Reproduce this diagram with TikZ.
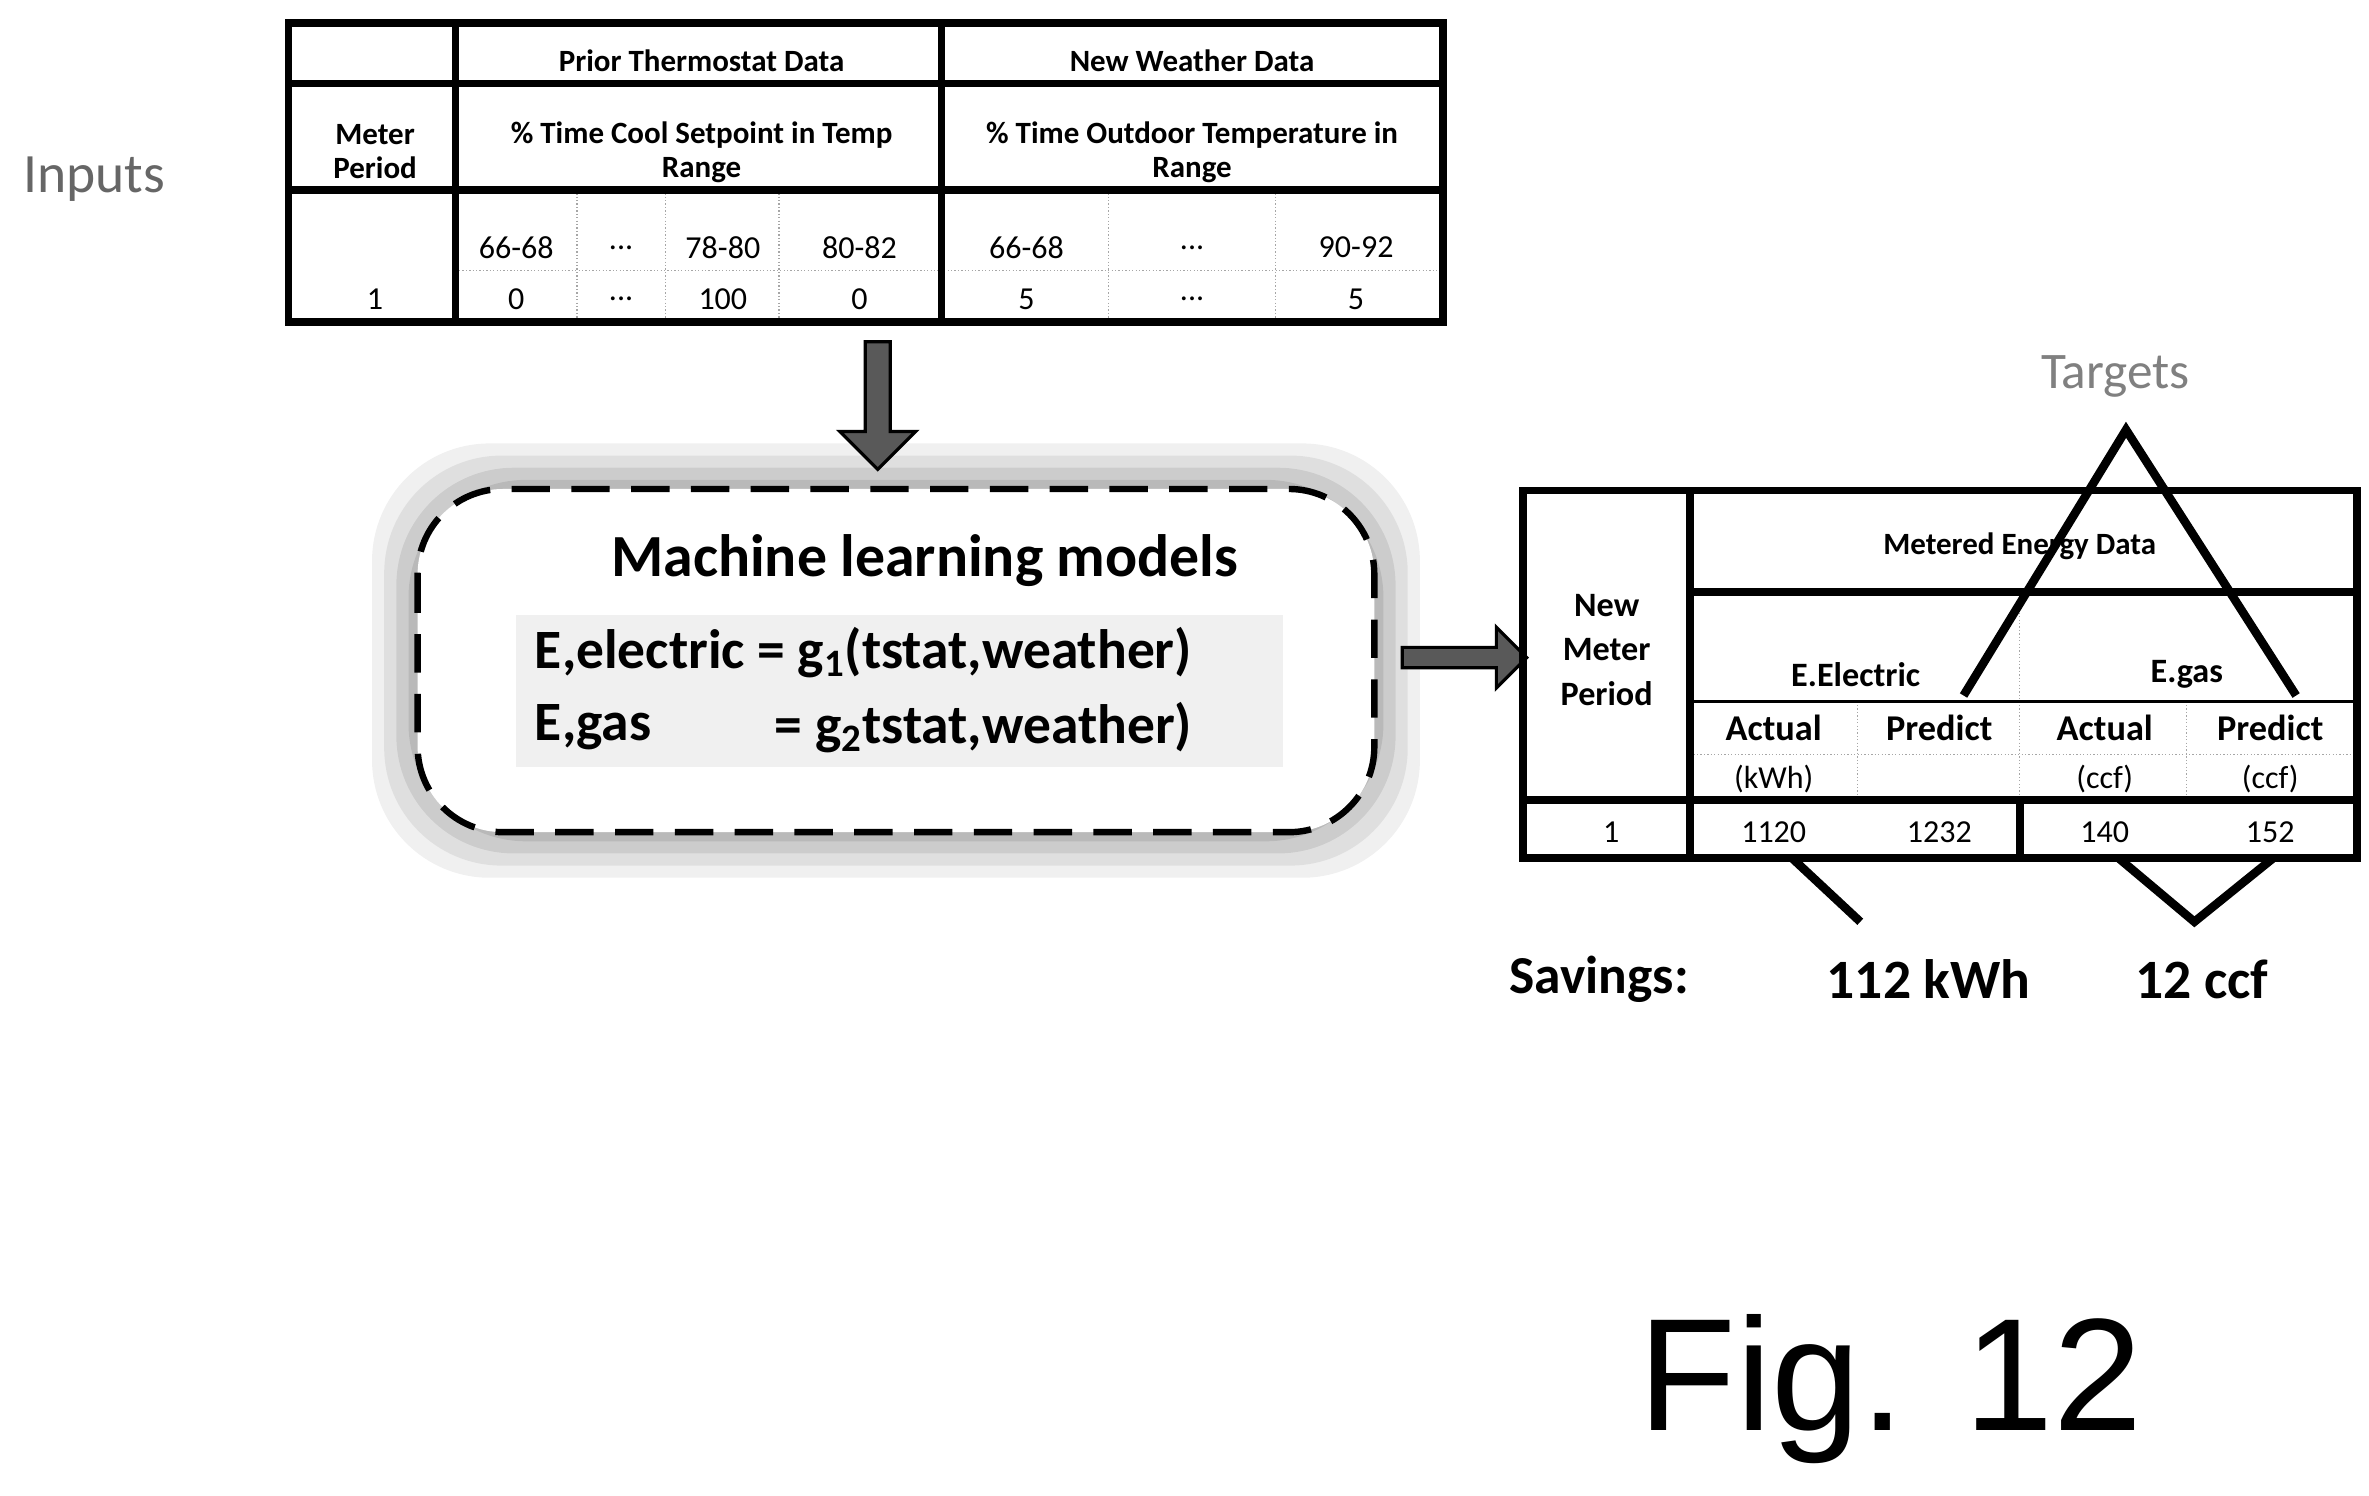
\documentclass[tikz,border=0pt]{standalone}
\usepackage{fontspec}
\setmainfont{Carlito}
\newfontfamily\arialf{Liberation Sans}
\usetikzlibrary{shapes.arrows}
\begin{document}
\begin{tikzpicture}[x=0.025cm,y=-0.025cm,
 thick line/.style={line width=3.6pt},
 thin sep/.style={gray!70,line width=0.6pt,densely dotted},
 tt/.style={font=\fontsize{15}{16}\selectfont,align=center,inner sep=0},
 tb/.style={tt,font=\fontsize{14.5}{16}\selectfont\bfseries},
 big/.style={font=\fontsize{26}{30}\selectfont\bfseries,inner sep=0},
 tri/.style={line width=4pt}]
\useasboundingbox (0,0) rectangle (1560,985);
\node[font=\fontsize{26}{28}\selectfont,text=gray!80!black] (inputs) at (62,118) {Inputs};
% top table
\draw[thin sep] (300,178) -- (950,178);
\foreach \x in {380,438,513,730,840} \draw[thin sep] (\x,125) -- (\x,212);
\draw[thick line] (190,15) rectangle (950,212);
\draw[thick line] (190,55) -- (950,55) (190,125) -- (950,125) (300,15) -- (300,212) (620,15) -- (620,212);
\node[tb] (h1) at (462,40) {Prior Thermostat Data};
\node[tb] (h2) at (785,40) {New Weather Data};
\node[tb] (h3) at (247,100) {Meter\\Period};
\node[tb] (h4) at (462,100) {\% Time Cool Setpoint in Temp\\Range};
\node[tb] (h5) at (785,100) {\% Time Outdoor Temperature in\\Range};
\foreach \x/\t [count=\i] in {340/66-68,409/{...},476/78-80,566/80-82,676/66-68,785/{...},893/90-92}
  \node[tt] (r\i) at (\x,163) {\t};
\foreach \x/\t [count=\i] in {247/1,340/0,409/{...},476/100,566/0,676/5,785/{...},893/5}
  \node[tt] (v\i) at (\x,197) {\t};
% ML box
\foreach \o/\op in {30/0.12,22/0.15,14/0.2,6/0.25}
  \fill[gray,opacity=\op,rounded corners=55] (275-\o,322-\o) rectangle (905+\o,548+\o);
\fill[white,rounded corners=40] (275,322) rectangle (905,548);
\fill[gray!12] (340,405) rectangle (845,505);
\draw[line width=3pt,dash pattern=on 18pt off 10pt,rounded corners=40] (275,322) rectangle (905,548);
% down arrow
\node[single arrow,draw=black,fill=gray!70!black,line width=1.5pt,minimum width=1.25cm,minimum height=2.1cm,single arrow head extend=0.3cm,rotate=-90,inner sep=0.12cm] (da) at (578,263) {};
\node[big,font=\fontsize{28}{30}\selectfont\bfseries] (ml) at (609,369) {Machine learning models};
\node[big,anchor=west] (e1) at (352,430) {E,electric = g$_{\mathbf 1}$(tstat,weather)};
\node[big,anchor=west] (e2) at (352,479) {E,gas};
\node[big,anchor=west] (e3) at (510,479) {= g$_{\mathbf 2}$tstat,weather)};
% right arrow
\node[single arrow,draw=black,fill=gray!70!black,line width=1.5pt,minimum width=1cm,minimum height=2.05cm,single arrow head extend=0.25cm,inner sep=0.1cm] (ra) at (961,433) {};
% right table
\draw[thin sep] (1330,390) -- (1330,527) (1223,462) -- (1223,527) (1440,462) -- (1440,527) (1113,497) -- (1552,497);
\draw[thick line] (1003,323) rectangle (1552,565);
\draw[thick line] (1113,323) -- (1113,565) (1113,390) -- (1552,390) (1003,527) -- (1552,527) (1330,527) -- (1330,565);
\draw[line width=1.5pt] (1113,462) -- (1552,462);
\node[tb,font=\fontsize{16}{21}\selectfont\bfseries] (nm) at (1058,428) {New\\Meter\\Period};
\node[tb] (me) at (1330,360) {Metered Energy Data};
\node[tb,font=\fontsize{16}{18}\selectfont\bfseries] (ee) at (1222,444) {E.Electric};
\node[tb,font=\fontsize{16}{18}\selectfont\bfseries] (eg) at (1440,444) {E.gas};
\foreach \x/\t [count=\i] in {1168/Actual,1277/Predict,1386/Actual,1495/Predict}
  \node[tb,font=\fontsize{17}{18}\selectfont\bfseries] (c\i) at (\x,479) {\t};
\node[tt] (u1) at (1168,513) {(kWh)};
\node[tt] (u2) at (1386,513) {(ccf)};
\node[tt] (u3) at (1495,513) {(ccf)};
\foreach \x/\t [count=\i] in {1061/1,1168/1120,1277/1232,1386/140,1495/152}
  \node[tt] (d\i) at (\x,548) {\t};
% targets
\node[font=\fontsize{24}{26}\selectfont,text=gray] (tg) at (1393,248) {Targets};
\coordinate (tp) at (1400,283);
\coordinate (tl) at (1293,458);
\coordinate (tr) at (1512,458);
\draw[tri] (tl) -- (tp) -- (tr);
% savings
\coordinate (s1a) at (1180,565); \coordinate (s1b) at (1225,607);
\coordinate (s2a) at (1395,565); \coordinate (s2b) at (1445,607); \coordinate (s2c) at (1497,565);
\draw[tri] (s1a) -- (s1b);
\draw[tri] (s2a) -- (s2b) -- (s2c);
\node[big,font=\fontsize{25}{28}\selectfont\bfseries] (sv) at (1053,645) {Savings:};
\node[big,font=\fontsize{26}{28}\selectfont\bfseries] (k) at (1270,645) {112 kWh};
\node[big,font=\fontsize{26}{28}\selectfont\bfseries] (c) at (1450,645) {12 ccf};
\node[font=\arialf\fontsize{75}{80}\selectfont] (fig) at (1245,915) {Fig. 12};
\end{tikzpicture}
\end{document}
